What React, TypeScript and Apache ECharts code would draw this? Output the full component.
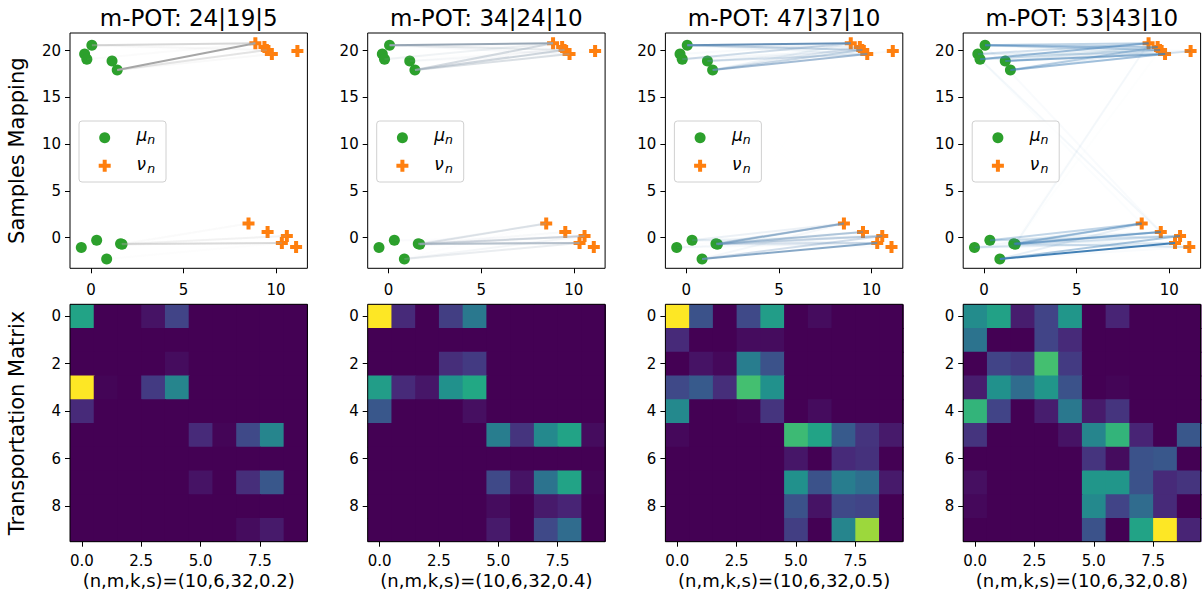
import React, { useEffect, useRef } from 'react';
import * as echarts from 'echarts';

const titles = ['m-POT: 24|19|5', 'm-POT: 34|24|10', 'm-POT: 47|37|10', 'm-POT: 53|43|10'];
const xlabels = ['(n,m,k,s)=(10,6,32,0.2)', '(n,m,k,s)=(10,6,32,0.4)', '(n,m,k,s)=(10,6,32,0.5)', '(n,m,k,s)=(10,6,32,0.8)'];

// source samples (mu_n), rows of the matrix
const muX = [0.05, -0.34, 1.14, 1.42, -0.22, 1.68, -0.52, 1.6, 0.31, 0.85];
const muY = [20.6, 19.64, 18.9, 17.93, 19.1, -0.71, -1.07, -0.65, -0.29, -2.29];
// target samples (nu_n), columns of the matrix
const nuX = [8.88, 9.37, 11.15, 9.77, 9.5, 8.51, 9.54, 10.58, 10.31, 11.08];
const nuY = [20.8, 20.4, 19.96, 19.64, 20.07, 1.5, 0.6, 0.17, -0.58, -1.01];

const plan1 = [
  [0.58, 0, 0, 0.05, 0.2, 0, 0, 0, 0, 0],
  [0, 0, 0, 0, 0, 0, 0, 0, 0, 0],
  [0, 0, 0, 0, 0.03, 0, 0, 0, 0, 0],
  [1.0, 0.01, 0, 0.17, 0.45, 0, 0, 0, 0, 0],
  [0.12, 0, 0, 0, 0, 0, 0, 0, 0, 0],
  [0, 0, 0, 0, 0, 0.12, 0.01, 0.22, 0.45, 0],
  [0, 0, 0, 0, 0, 0, 0, 0, 0, 0],
  [0, 0, 0, 0, 0, 0.05, 0, 0.13, 0.27, 0],
  [0, 0, 0, 0, 0, 0, 0, 0, 0, 0],
  [0, 0, 0, 0, 0, 0, 0, 0.03, 0.07, 0],
];
const plan2 = [
  [1.0, 0.12, 0, 0.18, 0.4, 0, 0, 0, 0, 0],
  [0, 0, 0, 0, 0, 0, 0, 0, 0, 0],
  [0, 0, 0, 0.13, 0.17, 0, 0, 0, 0, 0],
  [0.55, 0.12, 0.06, 0.5, 0.6, 0, 0, 0, 0, 0],
  [0.27, 0, 0, 0, 0.04, 0, 0, 0, 0, 0],
  [0, 0, 0, 0, 0, 0.42, 0.15, 0.47, 0.58, 0.03],
  [0, 0, 0, 0, 0, 0, 0, 0, 0, 0],
  [0, 0, 0, 0, 0, 0.22, 0.05, 0.38, 0.58, 0.01],
  [0, 0, 0, 0, 0, 0.03, 0, 0.07, 0.1, 0],
  [0, 0, 0, 0, 0, 0.07, 0, 0.22, 0.35, 0],
];
const plan3 = [
  [1.0, 0.25, 0, 0.22, 0.55, 0, 0.03, 0, 0, 0],
  [0.12, 0, 0, 0.03, 0.03, 0, 0, 0, 0, 0],
  [0, 0.05, 0.02, 0.42, 0.25, 0, 0, 0, 0, 0],
  [0.22, 0.28, 0.13, 0.7, 0.5, 0, 0, 0, 0, 0],
  [0.47, 0, 0, 0.01, 0.15, 0, 0.03, 0, 0, 0],
  [0.02, 0, 0, 0, 0, 0.68, 0.58, 0.28, 0.15, 0.07],
  [0, 0, 0, 0, 0, 0.06, 0, 0.12, 0.14, 0],
  [0, 0, 0, 0, 0, 0.5, 0.25, 0.42, 0.36, 0.07],
  [0, 0, 0, 0, 0, 0.25, 0.05, 0.22, 0.2, 0],
  [0, 0, 0, 0, 0, 0.18, 0, 0.45, 0.85, 0],
];
const plan4 = [
  [0.48, 0.57, 0.08, 0.2, 0.52, 0, 0.1, 0, 0, 0],
  [0.38, 0, 0, 0.2, 0.12, 0, 0, 0, 0, 0],
  [0, 0.2, 0.17, 0.7, 0.17, 0, 0, 0, 0, 0],
  [0.08, 0.5, 0.35, 0.52, 0.25, 0, 0.01, 0, 0, 0],
  [0.65, 0.2, 0, 0.08, 0.4, 0.07, 0.15, 0, 0, 0],
  [0.15, 0, 0, 0, 0.05, 0.45, 0.65, 0.1, 0, 0.27],
  [0, 0, 0, 0, 0, 0.15, 0.03, 0.25, 0.27, 0],
  [0.04, 0, 0, 0, 0, 0.52, 0.52, 0.25, 0.12, 0.15],
  [0.02, 0, 0, 0, 0, 0.47, 0.2, 0.35, 0.12, 0],
  [0, 0, 0, 0, 0, 0.25, 0, 0.58, 1.0, 0.1],
];
const plans = [plan1, plan2, plan3, plan4];

const topXTicks = [0, 5, 10];
const topYTicks = [0, 5, 10, 15, 20];
const matXTicks = [0, 2.5, 5, 7.5];
const matYTicks = [0, 2, 4, 6, 8];

// styles
const lineColors = ['#a6a6a6', '#98a7b6', '#6690b8', '#4280b6'];
const GREEN = '#2ca02c';
const ORANGE = '#ff7f0e';
const FONT = '"DejaVu Sans", sans-serif';
const PLUS = 'path://M-1,-3H1V-1H3V1H1V3H-1V1H-3V-1H-1Z';

const VIRIDIS = ['#440154', '#482475', '#414487', '#355f8d', '#2a788e', '#21918c', '#22a884', '#44bf70', '#7ad151', '#bddf26', '#fde725'];
function hex(c: string) {
  return [parseInt(c.slice(1, 3), 16), parseInt(c.slice(3, 5), 16), parseInt(c.slice(5, 7), 16)];
}
function viridis(t: number) {
  const v = Math.max(0, Math.min(1, t)) * 10;
  const i = Math.min(9, Math.floor(v));
  const f = v - i;
  const a = hex(VIRIDIS[i]);
  const b = hex(VIRIDIS[i + 1]);
  const c = a.map((x, k) => Math.round(x + (b[k] - x) * f));
  return `rgb(${c[0]},${c[1]},${c[2]})`;
}

const LEFTS = [70, 367.7, 665.4, 963.2];
const W = 237.4;
const TOP1 = 33, H1 = 235.3;
const TOP2 = 304.3, H2 = 237.4;

export default function App() {
  const ref = useRef<HTMLDivElement>(null);
  useEffect(() => {
    if (!ref.current) return;
    const chart = echarts.init(ref.current, null, { renderer: 'svg' });
    const grids: any[] = [];
    const xAxes: any[] = [];
    const yAxes: any[] = [];
    const series: any[] = [];
    const graphics: any[] = [];
    const labelStyle = { color: '#000', fontSize: 15, fontFamily: FONT };
    const tick = (vals: number[]) => ({ show: true, length: 5, lineStyle: { color: '#000', width: 1 }, customValues: vals });

    for (let i = 0; i < 4; i++) {
      grids.push({ left: LEFTS[i], top: TOP1, width: W, height: H1, outerBoundsMode: 'none' });
    }
    for (let i = 0; i < 4; i++) {
      grids.push({ left: LEFTS[i], top: TOP2, width: W, height: H2, outerBoundsMode: 'none', show: true, backgroundColor: '#440154', borderWidth: 0 });
    }
    for (let i = 0; i < 4; i++) {
      xAxes.push({
        type: 'value', gridIndex: i, min: -1.13, max: 11.69,
        axisLine: { show: false, onZero: false }, splitLine: { show: false },
        axisTick: tick(topXTicks),
        axisLabel: { ...labelStyle, margin: 14, customValues: topXTicks },
      });
      yAxes.push({
        type: 'value', gridIndex: i, min: -3.29, max: 21.9,
        axisLine: { show: false, onZero: false }, splitLine: { show: false },
        axisTick: tick(topYTicks),
        axisLabel: { ...labelStyle, margin: 9, customValues: topYTicks },
      });
    }
    for (let i = 0; i < 4; i++) {
      xAxes.push({
        type: 'value', gridIndex: 4 + i, min: -0.5, max: 9.5,
        axisLine: { show: false, onZero: false }, splitLine: { show: false },
        axisTick: tick(matXTicks),
        axisLabel: { ...labelStyle, margin: 12, customValues: matXTicks, formatter: (v: number) => Number(v).toFixed(1) },
      });
      yAxes.push({
        type: 'value', gridIndex: 4 + i, min: -0.5, max: 9.5, inverse: true,
        axisLine: { show: false, onZero: false }, splitLine: { show: false },
        axisTick: tick(matYTicks),
        axisLabel: { ...labelStyle, margin: 9, customValues: matYTicks },
      });
    }

    for (let p = 0; p < 4; p++) {
      const plan = plans[p];
      let mx = 0;
      plan.forEach((r) => r.forEach((v) => { if (v > mx) mx = v; }));
      // heatmap
      const cells: number[][] = [];
      for (let r = 0; r < 10; r++) for (let c = 0; c < 10; c++) cells.push([c, r, plan[r][c] / mx]);
      series.push({
        type: 'custom', xAxisIndex: 4 + p, yAxisIndex: 4 + p, data: cells, clip: true,
        encode: { x: 0, y: 1 }, silent: true,
        renderItem: (params: any, api: any) => {
          const x = api.value(0), y = api.value(1), v = api.value(2);
          const a = api.coord([x - 0.5, y - 0.5]);
          const b = api.coord([x + 0.5, y + 0.5]);
          const col = viridis(v);
          return {
            type: 'rect',
            shape: { x: Math.min(a[0], b[0]), y: Math.min(a[1], b[1]), width: Math.abs(b[0] - a[0]) + 1, height: Math.abs(b[1] - a[1]) + 1 },
            style: { fill: col },
          };
        },
      });
      // mapping lines
      const lineData: any[] = [];
      for (let r = 0; r < 10; r++) for (let c = 0; c < 10; c++) {
        const v = plan[r][c];
        if (v <= 0) continue;
        const t = v / mx;
        lineData.push({ coords: [[muX[r], muY[r]], [nuX[c], nuY[c]]], lineStyle: { opacity: Math.pow(t, 1.5) } });
      }
      series.push({
        type: 'lines', coordinateSystem: 'cartesian2d', xAxisIndex: p, yAxisIndex: p, z: 4,
        data: lineData, silent: true,
        lineStyle: { color: lineColors[p], width: 2, curveness: 0 },
      });
      series.push({
        type: 'scatter', xAxisIndex: p, yAxisIndex: p, z: 3, symbol: 'circle', symbolSize: 11,
        itemStyle: { color: GREEN, opacity: 1 }, silent: true,
        data: muX.map((x, k) => [x, muY[k]]),
      });
      series.push({
        type: 'scatter', xAxisIndex: p, yAxisIndex: p, z: 3, symbol: PLUS, symbolSize: 12,
        itemStyle: { color: ORANGE, opacity: 1 }, silent: true,
        data: nuX.map((x, k) => [x, nuY[k]]),
      });

      const L = LEFTS[p];
      // frames
      graphics.push({ type: 'rect', z: 100, silent: true, shape: { x: L, y: TOP1, width: W, height: H1 }, style: { fill: 'none', stroke: '#000', lineWidth: 1 } });
      graphics.push({ type: 'rect', z: 100, silent: true, shape: { x: L, y: TOP2, width: W, height: H2 }, style: { fill: 'none', stroke: '#000', lineWidth: 1 } });
      // titles and x labels
      graphics.push({ type: 'text', z: 100, x: L + W / 2, y: 18.4, style: { text: titles[p], font: `23px ${FONT}`, fill: '#000', align: 'center', verticalAlign: 'middle' } });
      graphics.push({ type: 'text', z: 100, x: L + W / 2, y: 580, style: { text: xlabels[p], font: `18px ${FONT}`, fill: '#000', align: 'center', verticalAlign: 'middle' } });
      // legend
      graphics.push({ type: 'rect', z: 50, silent: true, shape: { x: L + 9, y: 121, width: 87, height: 61, r: 3 }, style: { fill: 'rgba(255,255,255,0.8)', stroke: '#d0d0d0', lineWidth: 1 } });
      graphics.push({ type: 'circle', z: 51, shape: { cx: L + 34.7, cy: 137.7, r: 5.5 }, style: { fill: GREEN } });
      const cx = L + 34.7, cy = 165.7, s = 6, w = 2;
      graphics.push({
        type: 'polygon', z: 51,
        shape: { points: [[cx - w, cy - s], [cx + w, cy - s], [cx + w, cy - w], [cx + s, cy - w], [cx + s, cy + w], [cx + w, cy + w], [cx + w, cy + s], [cx - w, cy + s], [cx - w, cy + w], [cx - s, cy + w], [cx - s, cy - w], [cx - w, cy - w]] },
        style: { fill: ORANGE },
      });
      graphics.push({ type: 'text', z: 51, x: L + 66.5, y: 135, style: { text: 'μ', font: `italic 17px ${FONT}`, fill: '#000', align: 'left', verticalAlign: 'middle' } });
      graphics.push({ type: 'text', z: 51, x: L + 77.3, y: 139.7, style: { text: 'n', font: `italic 12.5px ${FONT}`, fill: '#000', align: 'left', verticalAlign: 'middle' } });
      graphics.push({ type: 'text', z: 51, x: L + 66.5, y: 163.6, style: { text: 'ν', font: `italic 17px ${FONT}`, fill: '#000', align: 'left', verticalAlign: 'middle' } });
      graphics.push({ type: 'text', z: 51, x: L + 77.3, y: 168.2, style: { text: 'n', font: `italic 12.5px ${FONT}`, fill: '#000', align: 'left', verticalAlign: 'middle' } });
    }
    graphics.push({ type: 'text', z: 100, x: 17, y: (TOP1 + TOP1 + H1) / 2, rotation: Math.PI / 2, style: { text: 'Samples Mapping', font: `21px ${FONT}`, fill: '#000', align: 'center', verticalAlign: 'middle' } });
    graphics.push({ type: 'text', z: 100, x: 17, y: (TOP2 + TOP2 + H2) / 2, rotation: Math.PI / 2, style: { text: 'Transportation Matrix', font: `21px ${FONT}`, fill: '#000', align: 'center', verticalAlign: 'middle' } });

    chart.setOption({
      animation: false,
      backgroundColor: '#fff',
      grid: grids,
      xAxis: xAxes,
      yAxis: yAxes,
      series,
      graphic: graphics,
    });
    return () => chart.dispose();
  }, []);
  return <div ref={ref} style={{ position: 'fixed', left: 0, top: 0, width: 1202, height: 598 }} />;
}
